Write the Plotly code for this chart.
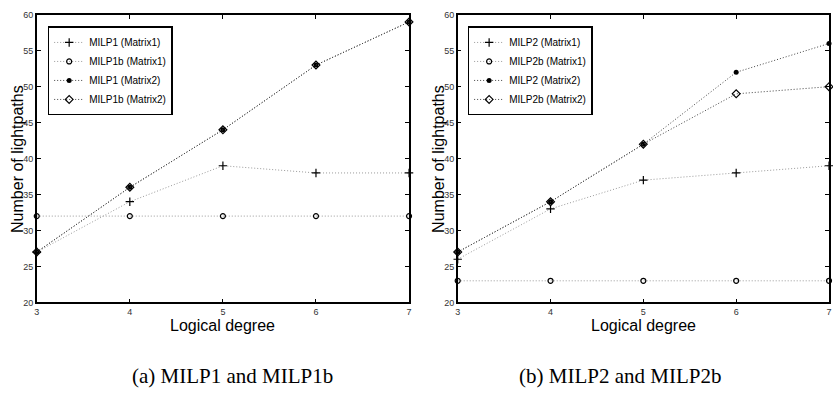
import plotly.graph_objects as go

degrees = [3, 4, 5, 6, 7]

# Panel (a)
milp1_m1 = [27, 34, 39, 38, 38]
milp1b_m1 = [32, 32, 32, 32, 32]
milp1_m2 = [27, 36, 44, 53, 59]
milp1b_m2 = [27, 36, 44, 53, 59]

# Panel (b)
milp2_m1 = [26, 33, 37, 38, 39]
milp2b_m1 = [23, 23, 23, 23, 23]
milp2_m2 = [27, 34, 42, 52, 56]
milp2b_m2 = [27, 34, 42, 49, 50]

names_a = ["MILP1 (Matrix1)", "MILP1b (Matrix1)", "MILP1 (Matrix2)", "MILP1b (Matrix2)"]
names_b = ["MILP2 (Matrix1)", "MILP2b (Matrix1)", "MILP2 (Matrix2)", "MILP2b (Matrix2)"]
y_ticks = [20, 25, 30, 35, 40, 45, 50, 55, 60]

styles = [
    dict(symbol="cross-thin", size=6, line=dict(width=1.2, color="black"), color="black"),
    dict(symbol="circle-open", size=5, line=dict(width=1.2, color="black"), color="black"),
    dict(symbol="circle", size=5, color="black"),
    dict(symbol="diamond-open", size=6, line=dict(width=1.2, color="black"), color="black"),
]
line_cols = ["#999999", "#999999", "#444444", "#444444"]

fig = go.Figure()

def add_panel(series, names, xa, ya, legend):
    for i, (ys, nm) in enumerate(zip(series, names)):
        fig.add_trace(go.Scatter(
            x=degrees, y=ys, name=nm, mode="lines+markers",
            line=dict(dash="1px,2px", width=1, color=line_cols[i]),
            marker=styles[i], xaxis=xa, yaxis=ya, legend=legend,
            cliponaxis=False,
        ))

add_panel([milp1_m1, milp1b_m1, milp1_m2, milp1b_m2], names_a, "x", "y", "legend")
add_panel([milp2_m1, milp2b_m1, milp2_m2, milp2b_m2], names_b, "x2", "y2", "legend2")

W, H = 833, 400
ydom = [1 - 305 / H, 1 - 10 / H]
ax_common = dict(
    showline=True, linecolor="black", linewidth=1.5, mirror="ticks",
    ticks="inside", ticklen=4, tickcolor="black", showgrid=False, zeroline=False,
    tickfont=dict(family="Liberation Sans, Arial", size=9, color="#333"),
)

legend_common = dict(
    bgcolor="white", bordercolor="black", borderwidth=1.5,
    font=dict(family="Liberation Sans, Arial", size=10, color="black"),
    xanchor="left", yanchor="top", tracegroupgap=0, itemwidth=30,
)

fig.update_layout(
    width=W, height=H, margin=dict(l=0, r=0, t=0, b=0),
    plot_bgcolor="white", paper_bgcolor="white", showlegend=True,
    xaxis=dict(domain=[34 / W, 409 / W], range=[3, 7], tickvals=degrees, anchor="y", **ax_common),
    yaxis=dict(domain=ydom, range=[20, 60], tickvals=y_ticks, anchor="x", **ax_common),
    xaxis2=dict(domain=[458 / W, 832 / W], range=[3, 7], tickvals=degrees, anchor="y2", **ax_common),
    yaxis2=dict(domain=ydom, range=[20, 60], tickvals=y_ticks, anchor="x2", **ax_common),
    legend=dict(x=45 / W, y=1 - 22 / H, **legend_common),
    legend2=dict(x=468 / W, y=1 - 22 / H, **legend_common),
)

title_font = dict(family="Liberation Sans, Arial", size=16, color="black")
cap_font = dict(family="Liberation Serif, DejaVu Serif", size=21, color="black")
annots = [
    dict(text="Logical degree", x=(34 + 409) / 2 / W, y=1 - 329 / H, font=title_font),
    dict(text="Logical degree", x=(458 + 832) / 2 / W, y=1 - 329 / H, font=title_font),
    dict(text="Number of lightpaths", x=14 / W, y=1 - 158 / H, font=title_font, textangle=-90),
    dict(text="Number of lightpaths", x=438 / W, y=1 - 158 / H, font=title_font, textangle=-90),
    dict(text="(a) MILP1 and MILP1b", x=231 / W, y=1 - 380 / H, font=cap_font),
    dict(text="(b) MILP2 and MILP2b", x=621 / W, y=1 - 380 / H, font=cap_font),
]
for a in annots:
    fig.add_annotation(xref="paper", yref="paper", showarrow=False,
                       xanchor="center", yanchor="middle", **a)

fig.write_html(
    "out.html",
    config={"displayModeBar": False},
    post_script="document.body.style.margin='0';document.body.style.overflow='hidden';",
)
